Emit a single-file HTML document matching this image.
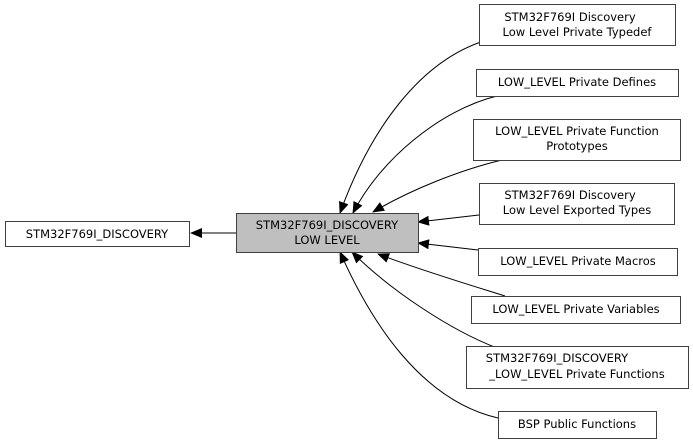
<!DOCTYPE html>
<html><head><meta charset="utf-8"><style>
html,body{margin:0;padding:0;background:#fff;width:693px;height:443px;overflow:hidden}
text{font-family:"DejaVu Sans","Liberation Sans",sans-serif;font-size:11.5px;fill:#000}
</style></head><body>
<svg width="693" height="443" viewBox="0 0 693 443" xmlns="http://www.w3.org/2000/svg">
<defs><marker id="a" markerWidth="12" markerHeight="10" refX="11" refY="5" orient="auto" markerUnits="userSpaceOnUse"><path d="M0,0 L12,5 L0,10 Z" fill="#000"/></marker></defs>
<g fill="none" stroke="#000" stroke-width="1">
<path d="M236,233 L191,233" marker-end="url(#a)"/>
<path d="M487,40 C420,60 370,130 340,213" marker-end="url(#a)"/>
<path d="M497,96 C440,110 380,160 353,213" marker-end="url(#a)"/>
<path d="M502,160 C460,170 410,190 373,212" marker-end="url(#a)"/>
<path d="M479,215 L418,222" marker-end="url(#a)"/>
<path d="M478,250 L418,243" marker-end="url(#a)"/>
<path d="M505,296 C470,285 420,270 378,254" marker-end="url(#a)"/>
<path d="M497,348 C450,330 390,290 352,252" marker-end="url(#a)"/>
<path d="M498,418 C420,400 370,320 340,252" marker-end="url(#a)"/>
</g>
<g stroke="#404040" stroke-width="1" fill="#fff">
<rect x="5.5" y="221.5" width="184" height="25"/>
<rect x="236.5" y="213.5" width="182" height="39" fill="#bfbfbf"/>
<rect x="479.5" y="4.5" width="196" height="41"/>
<rect x="476.5" y="69.5" width="202" height="27"/>
<rect x="473.5" y="119.5" width="207" height="41"/>
<rect x="479.5" y="183.5" width="195" height="41"/>
<rect x="478.5" y="248.5" width="199" height="27"/>
<rect x="471.5" y="296.5" width="209" height="27"/>
<rect x="466.5" y="346.5" width="222" height="42"/>
<rect x="498.5" y="411.5" width="158" height="27"/>
</g>
<g text-anchor="middle">
<text x="97" y="238">STM32F769I_DISCOVERY</text>
<text x="327" y="229">STM32F769I_DISCOVERY</text>
<text x="327" y="244">LOW LEVEL</text>
<text x="570" y="21">STM32F769I Discovery</text>
<text x="577" y="36">Low Level Private Typedef</text>
<text x="577" y="86">LOW_LEVEL Private Defines</text>
<text x="577" y="135">LOW_LEVEL Private Function</text>
<text x="577" y="150">Prototypes</text>
<text x="570" y="199">STM32F769I Discovery</text>
<text x="577" y="214">Low Level Exported Types</text>
<text x="578" y="265">LOW_LEVEL Private Macros</text>
<text x="576" y="313">LOW_LEVEL Private Variables</text>
<text x="557" y="362">STM32F769I_DISCOVERY</text>
<text x="577" y="378">_LOW_LEVEL Private Functions</text>
<text x="577" y="428">BSP Public Functions</text>
</g>
</svg>
</body></html>
